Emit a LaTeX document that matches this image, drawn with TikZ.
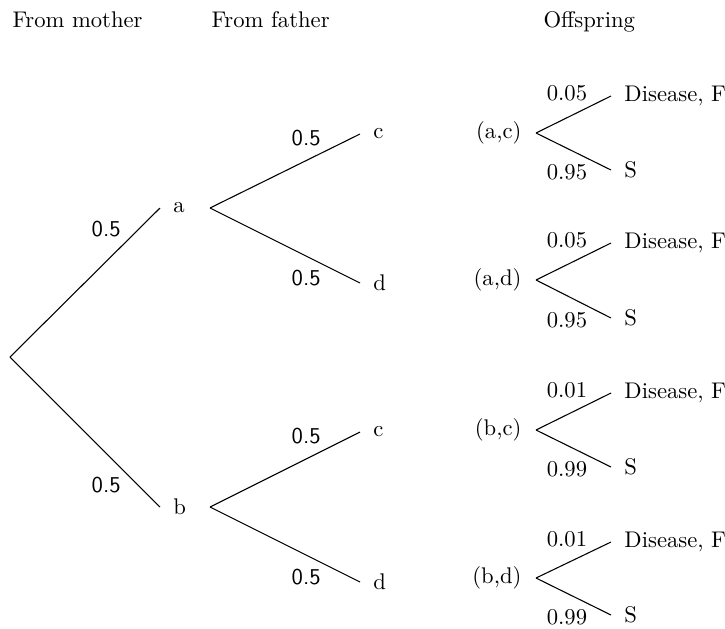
\documentclass[tikz,border=0pt]{standalone}
\begin{document}
\begin{tikzpicture}[x=0.0163cm, y=-0.0163cm, line width=0.5pt,
    every node/.style={font=\fontsize{10.5}{12}\selectfont},
    head/.style={anchor=base west, inner sep=0pt},
    tip/.style={anchor=west, inner xsep=6pt},
    pair/.style={anchor=east, inner xsep=6.5pt},
    half/.style={font=\fontsize{10.5}{12}\sffamily, inner sep=2pt, pos=.77},
    prob/.style={inner sep=1.8pt, pos=.74}]
  \useasboundingbox (0,0) rectangle (725,628);
  \node[head] (hm) at (12,27) {From mother};
  \node[head] (hf) at (211,27) {From father};
  \node[head] (ho) at (543,27) {Offspring};
  % forks
  \coordinate (o) at (10,357);
  \coordinate (fa) at (210,208);
  \coordinate (fb) at (210,507);
  \draw
    (160,208) node[tip] (a){a}
    (160,507) node[tip] (b){b}
    (360,134) node[tip] (ac){c}
    (360,283) node[tip] (ad){d}
    (360,432) node[tip] (bc){c}
    (360,582) node[tip] (bd){d};
  \draw
    (536,133) node[pair] (pac){(a,c)}
    (536,280) node[pair] (pad){(a,d)}
    (536,430) node[pair] (pbc){(b,c)}
    (536,578) node[pair] (pbd){(b,d)}
    (611,96) node[tip] (acF){Disease, F}
    (611,170) node[tip] (acS){S}
    (611,243) node[tip] (adF){Disease, F}
    (611,318) node[tip] (adS){S}
    (611,393) node[tip] (bcF){Disease, F}
    (611,467) node[tip] (bcS){S}
    (611,542) node[tip] (bdF){Disease, F}
    (611,615) node[tip] (bdS){S};
  \begin{scope}[-]
    \draw (o) to node[half, above left] (l1){0.5} (a.west);
    \draw (o) to node[half, below left] (l2){0.5} (b.west);
    \draw (fa) to node[half, above left] (l3){0.5} (ac.west);
    \draw (fa) to node[half, below left] (l4){0.5} (ad.west);
    \draw (fb) to node[half, above left] (l5){0.5} (bc.west);
    \draw (fb) to node[half, below left] (l6){0.5} (bd.west);
    \draw (pac.east) to node[prob, above left] (p1){0.05} (acF.west);
    \draw (pac.east) to node[prob, below left] (p2){0.95} (acS.west);
    \draw (pad.east) to node[prob, above left] (p3){0.05} (adF.west);
    \draw (pad.east) to node[prob, below left] (p4){0.95} (adS.west);
    \draw (pbc.east) to node[prob, above left] (p5){0.01} (bcF.west);
    \draw (pbc.east) to node[prob, below left] (p6){0.99} (bcS.west);
    \draw (pbd.east) to node[prob, above left] (p7){0.01} (bdF.west);
    \draw (pbd.east) to node[prob, below left] (p8){0.99} (bdS.west);
  \end{scope}
\end{tikzpicture}
\end{document}
